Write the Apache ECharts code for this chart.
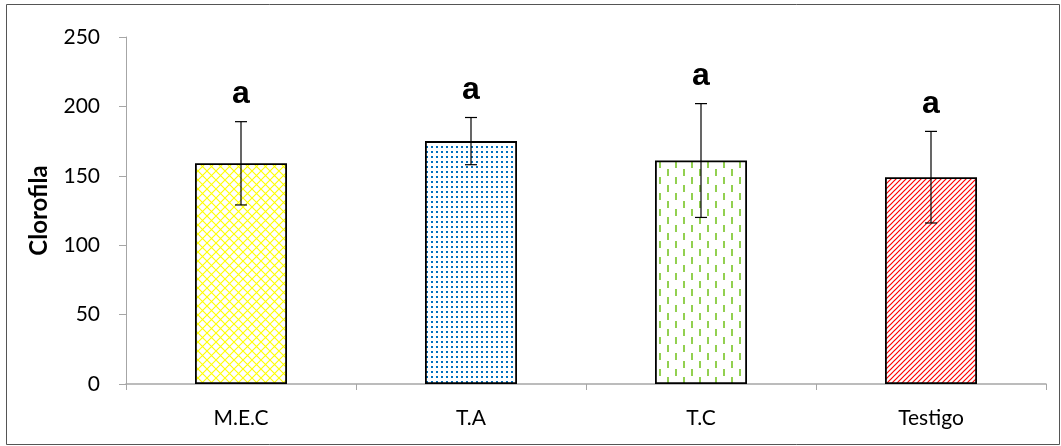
<!DOCTYPE html>
<html>
<head>
<meta charset="utf-8">
<script src="https://cdn.jsdelivr.net/npm/echarts@6/dist/echarts.min.js"></script>
<style>
  html, body { margin: 0; padding: 0; background: #fff; }
  #chart { width: 1061px; height: 446px; }
</style>
</head>
<body>
<div id="chart"></div>
<script>
// Chlorophyll content per treatment, mean with standard deviation
const categories = ['M.E.C', 'T.A', 'T.C', 'Testigo'];
const means = [159, 175, 161, 149];
const errors = [30, 17, 41, 33];
const letters = ['a', 'a', 'a', 'a'];
const yTicks = [0, 50, 100, 150, 200, 250];

// Tile builders for the hatched bar fills
function tile(w, h, draw) {
  const c = document.createElement('canvas');
  c.width = w; c.height = h;
  const ctx = c.getContext('2d');
  ctx.fillStyle = '#ffffff';
  ctx.fillRect(0, 0, w, h);
  draw(ctx);
  return { image: c, repeat: 'repeat' };
}
const lattice = tile(9, 9, ctx => {
  ctx.strokeStyle = '#FFFF00';
  ctx.lineWidth = 1.1;
  ctx.beginPath();
  ctx.moveTo(-1, -1); ctx.lineTo(10, 10);
  ctx.moveTo(-1, 10); ctx.lineTo(10, -1);
  ctx.stroke();
});
const dots = tile(5, 5, ctx => {
  ctx.fillStyle = '#0070C0';
  ctx.fillRect(1, 1, 2, 2);
});
const dashes = tile(16, 16, ctx => {
  ctx.fillStyle = '#92D050';
  ctx.fillRect(3, 1, 2, 7);
  ctx.fillRect(11, 9, 2, 7);
});
const diagonals = tile(5, 5, ctx => {
  ctx.strokeStyle = '#FF0000';
  ctx.lineWidth = 1.2;
  ctx.beginPath();
  ctx.moveTo(-1, 6); ctx.lineTo(6, -1);
  ctx.moveTo(-1, 1); ctx.lineTo(1, -1);
  ctx.moveTo(4, 6); ctx.lineTo(6, 4);
  ctx.stroke();
});
const fills = [lattice, dots, dashes, diagonals];

const chart = echarts.init(document.getElementById('chart'), null, { renderer: 'canvas' });

chart.setOption({
  animation: false,
  backgroundColor: '#ffffff',
  graphic: [{
    type: 'rect',
    shape: { x: 6.5, y: 4.5, width: 1053, height: 440 },
    style: { fill: 'none', stroke: '#555555', lineWidth: 1 },
    silent: true
  }],
  grid: { left: 126, right: 15, top: 37, bottom: 62 },
  xAxis: {
    type: 'category',
    data: categories,
    axisLine: { lineStyle: { color: '#A6A6A6', width: 1.5 } },
    axisTick: { show: true, length: 6, lineStyle: { color: '#A6A6A6' } },
    axisLabel: { color: '#000', fontFamily: 'Lato', fontSize: 21, margin: 24 }
  },
  yAxis: {
    type: 'value',
    min: yTicks[0],
    max: yTicks[yTicks.length - 1],
    interval: 50,
    name: 'Clorofila',
    nameLocation: 'middle',
    nameGap: 75,
    nameTextStyle: { color: '#000', fontFamily: 'Lato', fontSize: 24, fontWeight: 'bold' },
    axisLine: { show: true, lineStyle: { color: '#A6A6A6', width: 1 } },
    axisTick: { show: true, length: 7, lineStyle: { color: '#A6A6A6' } },
    axisLabel: { color: '#000', fontFamily: 'Lato', fontSize: 21, margin: 26 },
    splitLine: { show: false }
  },
  series: [
    {
      type: 'bar',
      barWidth: '40%',
      data: means.map((v, i) => ({
        value: v,
        itemStyle: { color: fills[i], borderColor: '#000000', borderWidth: 1.8 }
      }))
    },
    {
      type: 'custom',
      data: means.map((v, i) => [i, v - errors[i], v + errors[i], letters[i]]),
      renderItem: function (params, api) {
        const x = api.value(0);
        const lo = api.coord([x, api.value(1)]);
        const hi = api.coord([x, api.value(2)]);
        const cap = 6;
        const style = { stroke: '#000000', lineWidth: 1.2 };
        return {
          type: 'group',
          children: [
            { type: 'line', shape: { x1: hi[0], y1: hi[1], x2: lo[0], y2: lo[1] }, style },
            { type: 'line', shape: { x1: hi[0] - cap, y1: hi[1], x2: hi[0] + cap, y2: hi[1] }, style },
            { type: 'line', shape: { x1: lo[0] - cap, y1: lo[1], x2: lo[0] + cap, y2: lo[1] }, style },
            {
              type: 'text',
              style: {
                text: api.value(3),
                x: hi[0], y: hi[1] - 11,
                align: 'center', verticalAlign: 'bottom',
                fill: '#000', font: 'bold 32px "Liberation Sans"'
              }
            }
          ]
        };
      },
      z: 5
    }
  ]
});
</script>
</body>
</html>
